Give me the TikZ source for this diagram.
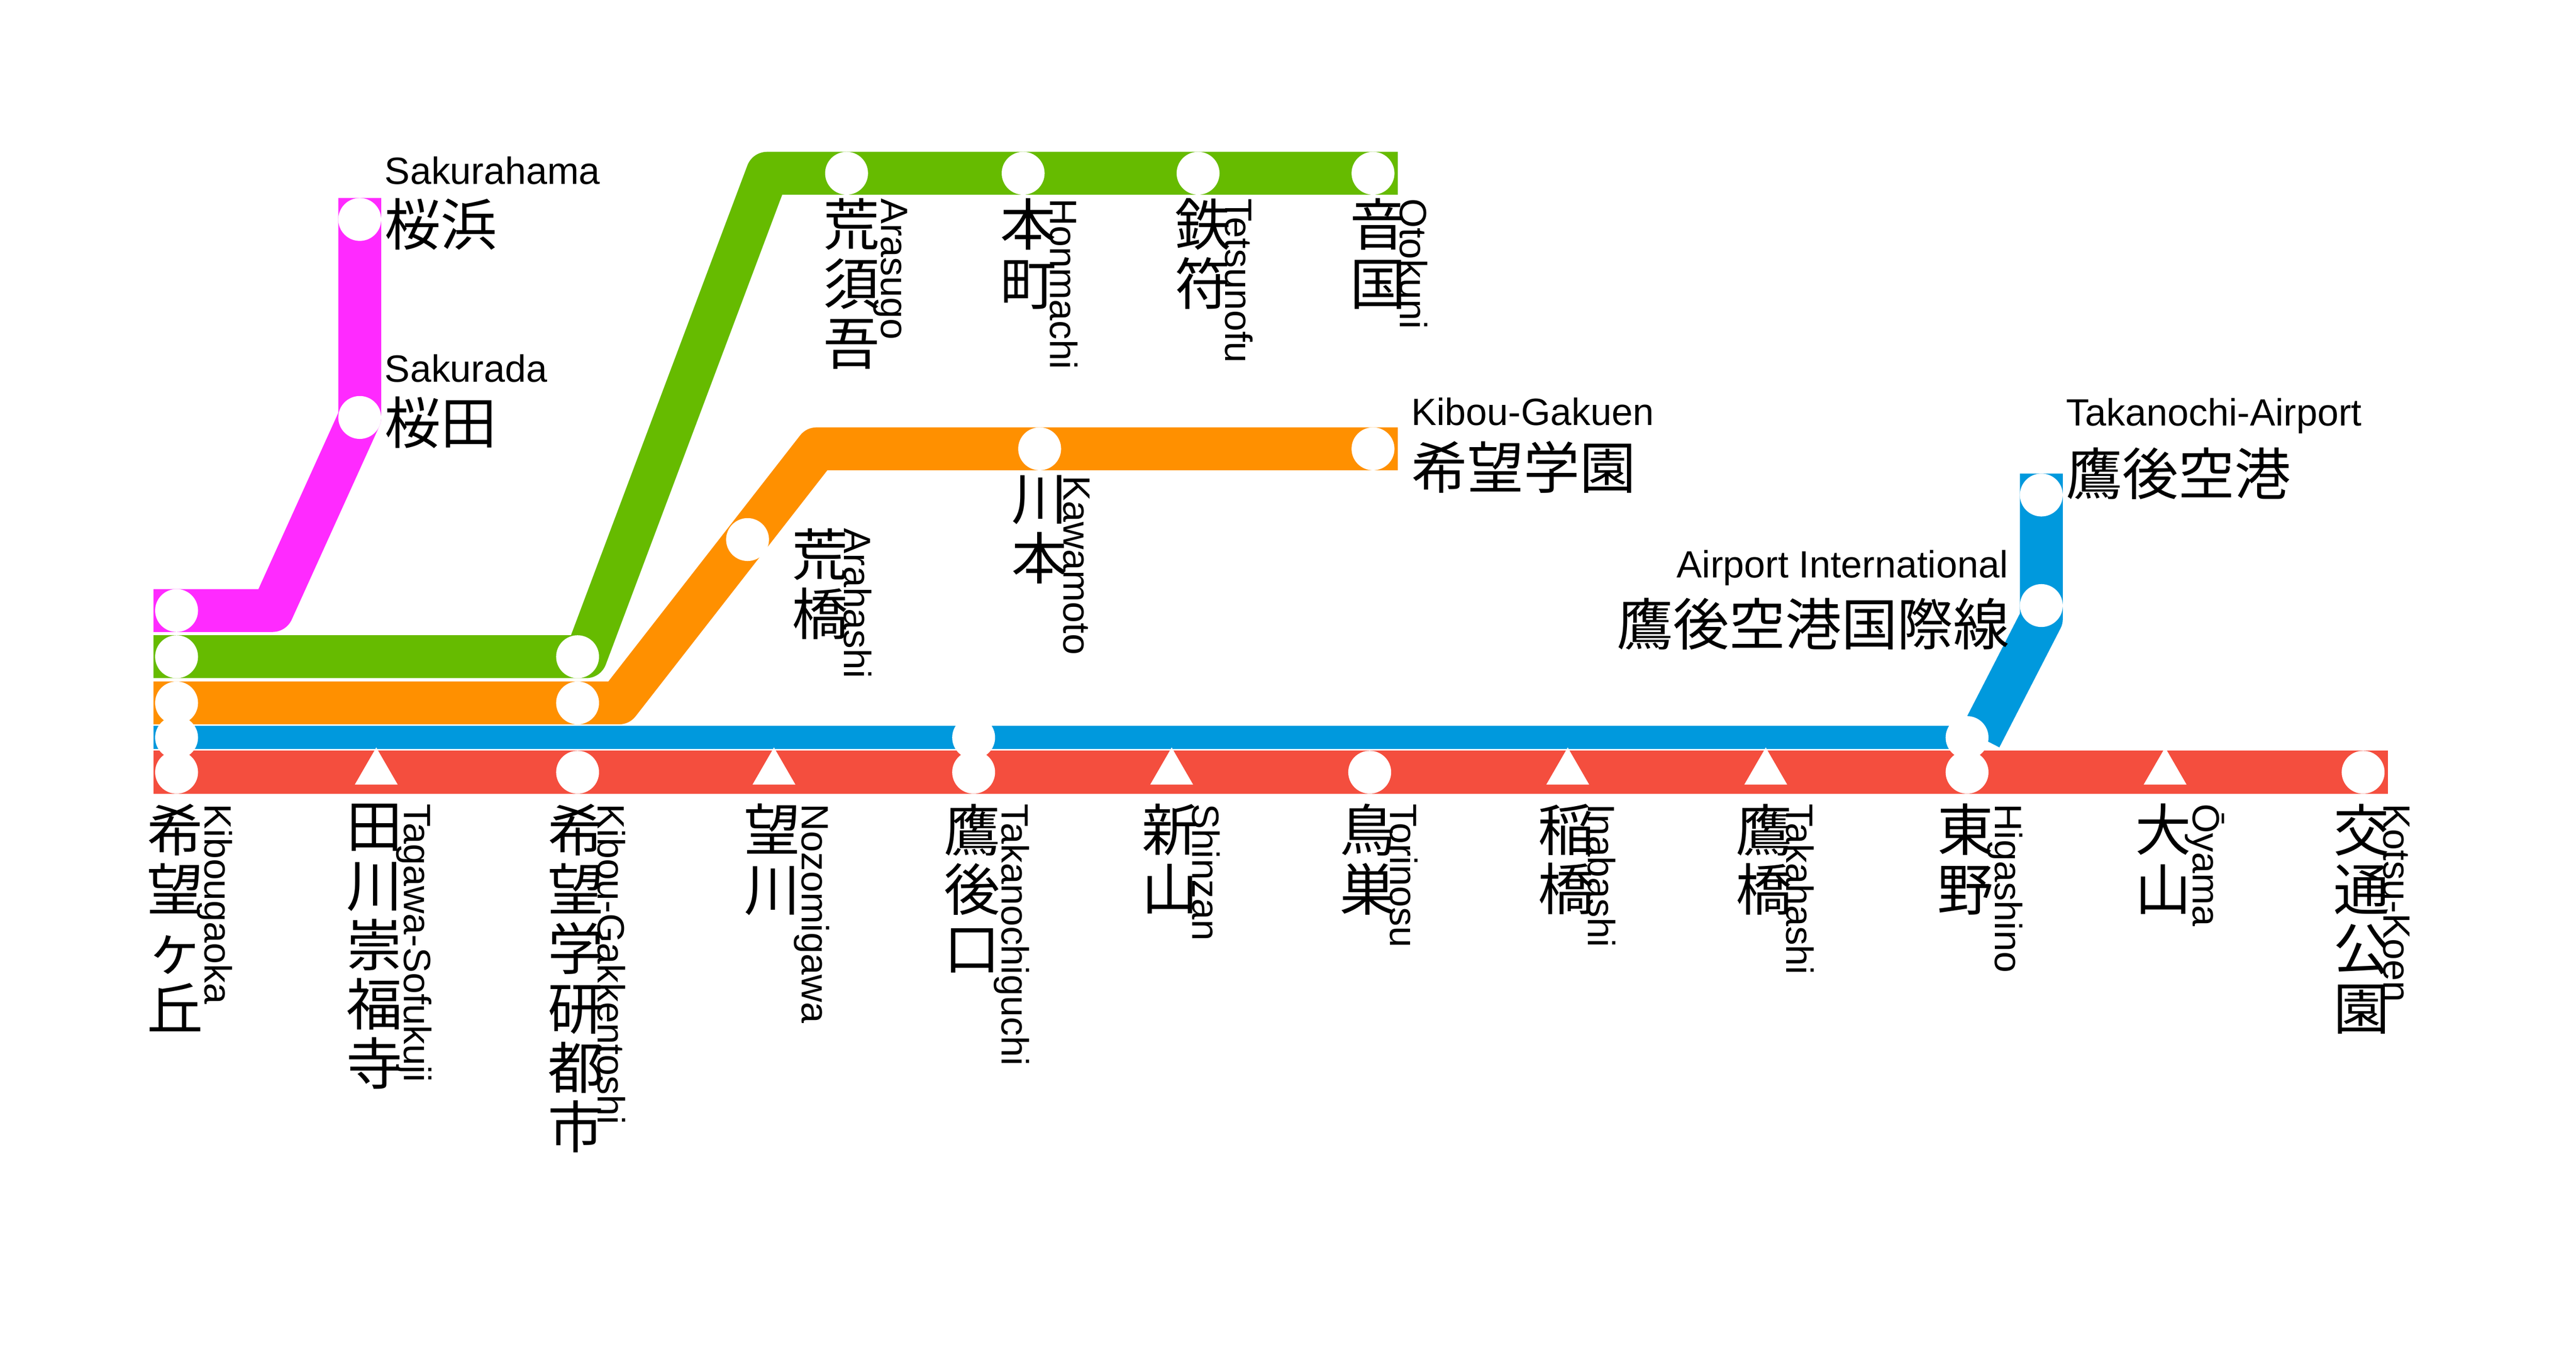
\documentclass[tikz,border=0pt]{standalone}
\usepackage{fontspec}
\setmainfont{Liberation Sans}
\newfontfamily\jpfont{Noto Sans CJK JP}
\usetikzlibrary{positioning,shapes.geometric}
\definecolor{redline}{HTML}{F44E3E}
\definecolor{blueline}{HTML}{0099DD}
\definecolor{orangeline}{HTML}{FF9000}
\definecolor{greenline}{HTML}{66BB00}
\definecolor{pinkline}{HTML}{FF2AFF}
\begin{document}
\begin{tikzpicture}[
    x=1pt, y=-1pt,
    route/.style={line width=26pt, line join=round},
    stn/.style={circle, fill=white, inner sep=0pt, minimum size=26pt},
    pass/.style={regular polygon, regular polygon sides=3, fill=white, inner sep=0pt, minimum size=30pt},
    jp/.style={font=\jpfont\fontsize{34}{36}\selectfont, align=center, inner sep=0pt},
    en/.style={font=\fontsize{23}{24}\selectfont, inner sep=0pt},
    enrot/.style={en, rotate=-90, anchor=south west}
    ]
\useasboundingbox (0,0) rectangle (1561,815);
% coordinates of the routes
\coordinate (p0) at (93,370); \coordinate (p1) at (165,370);
\coordinate (p2) at (218,253); \coordinate (p3) at (218,120);
\coordinate (g0) at (93,398); \coordinate (g1) at (355,398);
\coordinate (g2) at (465,105); \coordinate (g3) at (847,105);
\coordinate (o0) at (93,426); \coordinate (o1) at (375,426);
\coordinate (o2) at (495,272); \coordinate (o3) at (847,272);
\coordinate (b0) at (93,447); \coordinate (b1) at (1207,447);
\coordinate (b2) at (1237,375); \coordinate (b3) at (1237,287);
\coordinate (r0) at (93,468); \coordinate (r1) at (1447,468);
\draw[route, pinkline] (p0) -- (p1) -- (p2) -- (p3);
\draw[route, greenline] (g0) -- (g1) -- (g2) -- (g3);
\draw[route, orangeline] (o0) -- (o1) -- (o2) -- (o3);
\draw[route, blueline, line width=14pt] (b0) -- (1200,447);
\draw[route, blueline] (1200,447) -- (b2) -- (b3);
\draw[route, redline, line join=miter] (r0) -- (r1);
% main line
\foreach \x/\kind/\ja/\en [count=\i] in {
    107/stn/希\\望\\ヶ\\丘/Kibougaoka,
    228/pass/田\\川\\崇\\福\\寺/Tagawa-Sofukuji,
    350/stn/希\\望\\学\\研\\都\\市/Kibou-Gakkentoshi,
    469/pass/望\\川/Nozomigawa,
    590/stn/鷹\\後\\口/Takanochiguchi,
    710/pass/新\\山/Shinzan,
    830/stn/鳥\\巣/Torinosu,
    950/pass/稲\\橋/Inabashi,
    1070/pass/鷹\\橋/Takahashi,
    1192/stn/東\\野/Higashino,
    1312/pass/大\\山/Ōyama,
    1432/stn/交\\通\\公\\園/Kotsu-Koen}{
  \node[\kind] (r\i) at (\x,468) {};
  \node[jp, anchor=north] (rj\i) at (\x-1,487) {\ja};
  \node[enrot] (re\i) at (\x+12,487) {\en};
}
% branch stations
\foreach \y [count=\i] in {370,398,426,447}
  \node[stn] (k\i) at (107,\y) {};
\node[stn] (b1s) at (590,447) {};
\node[stn] (b2s) at (1192,447) {};
\node[stn] (b3s) at (1237,367) {};
\node[stn] (b4s) at (1237,300) {};
\node[stn] (o1s) at (350,426) {};
\node[stn] (o2s) at (453,327) {};
\node[stn] (o3s) at (630,272) {};
\node[stn] (o4s) at (832,272) {};
\node[stn] (g1s) at (350,398) {};
\foreach \x/\ja/\en [count=\i] in {513/荒\\須\\吾/Arasugo, 620/本\\町/Honmachi,
    726/鉄\\符/Tetsunofu, 832/音\\国/Otokuni}{
  \node[stn] (gs\i) at (\x,105) {};
  \node[jp, anchor=north] (gj\i) at (\x+3,120) {\ja};
  \node[enrot] (ge\i) at (\x+16,120) {\en};
}
\node[stn] (ps1) at (218,253) {};
\node[stn] (ps2) at (218,133) {};
% branch labels
\node[jp, anchor=north] (oj2) at (497,320) {荒\\橋};
\node[enrot] (oe2) at (511,320) {Arahashi};
\node[jp, anchor=north] (oj3) at (630,288) {川\\本};
\node[enrot] (oe3) at (644,288) {Kawamoto};
\node[jp, anchor=west] (oj4) at (855,283) {希望学園};
\node[en, anchor=south west] (oe4) at (855,258) {Kibou-Gakuen};
\node[jp, anchor=west] (pj1) at (233,256) {桜田};
\node[en, anchor=south west] (pe1) at (233,232) {Sakurada};
\node[jp, anchor=west] (pj2) at (233,136) {桜浜};
\node[en, anchor=south west] (pe2) at (233,112) {Sakurahama};
\node[jp, anchor=east] (bj3) at (1218,378) {鷹後空港国際線};
\node[en, anchor=south east] (be3) at (1217,355) {Airport International};
\node[jp, anchor=west] (bj4) at (1252,287) {鷹後空港};
\node[en, anchor=south west] (be4) at (1252,263) {Takanochi-Airport};
\end{tikzpicture}
\end{document}
